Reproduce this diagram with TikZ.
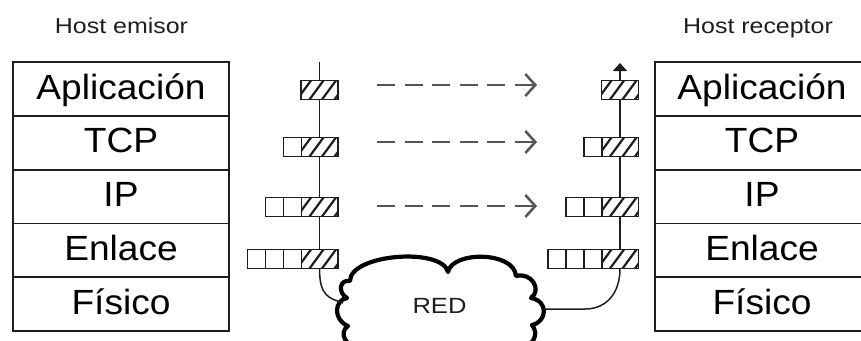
\documentclass[tikz,border=0pt]{standalone}
\usepackage{fontspec}
\setmainfont{Liberation Sans}
\newfontfamily\layerfont[FakeStretch=1.06]{Liberation Sans}
\newfontfamily\titlefont[FakeStretch=1.16]{Liberation Sans}
\usetikzlibrary{arrows.meta}
\definecolor{ink}{RGB}{30,30,30}
\definecolor{dgray}{RGB}{85,85,85}
\begin{document}
\begin{tikzpicture}[x=1pt,y=-1pt,
  layer/.style={draw=ink, line width=1.8pt, minimum width=216pt, inner sep=0pt, outer sep=0pt,
    text height=37pt, text depth=16.8pt, anchor=north, font=\layerfont\fontsize{35}{40}\selectfont},
  title/.style={anchor=base, inner sep=0pt, font=\titlefont\fontsize{21.5}{24}\selectfont, text=ink},
  cellw/.style={draw=ink, line width=1.8pt, fill=white, minimum width=18pt, minimum height=19pt, inner sep=0pt, outer sep=0pt},
  cellh/.style={cellw, minimum width=37pt,
    path picture={\foreach \k in {0,...,3}{\draw[ink,line width=2.2pt] ([xshift=\k*12.5pt-4pt]path picture bounding box.south west) -- ++(14pt,19pt);}}},
  conn/.style={draw=ink, line width=1.5pt},
  dasharrow/.style={dgray, line width=2.5pt, dash pattern=on 18pt off 9.5pt,
    -{Straight Barb[length=10pt,width=22pt,line width=2.5pt]}}
]
\useasboundingbox (0,0) rectangle (861,340);

% titles
\node[title] (temisor) at (121.5,33) {Host emisor};
\node[title] (treceptor) at (758,33) {Host receptor};

% left stack
\node[layer] (L1) at (121,62) {Aplicación};
\node[layer] (L2) at (121,115.8) {TCP};
\node[layer] (L3) at (121,169.6) {IP};
\node[layer] (L4) at (121,223.4) {Enlace};
\node[layer] (L5) at (121,277.2) {Físico};

% right stack
\node[layer, minimum width=214pt] (R1) at (762,62) {Aplicación};
\node[layer, minimum width=214pt] (R2) at (762,115.8) {TCP};
\node[layer, minimum width=214pt] (R3) at (762,169.6) {IP};
\node[layer, minimum width=214pt] (R4) at (762,223.4) {Enlace};
\node[layer, minimum width=214pt] (R5) at (762,277.2) {Físico};

% coordinates
\coordinate (ltop) at (319.5,62);
\coordinate (rtop) at (620,63);
\coordinate (cloudL) at (343,303);
\coordinate (cloudR) at (543,309);

% cloud
\draw[black, line width=4.2pt, line join=round, fill=white]
  (350,281)
  .. controls (350,254) and (442,247) .. (448,272)
  .. controls (452,251) and (514,251) .. (516,276)
  .. controls (532,272) and (542,290) .. (531,298)
  .. controls (549,301) and (547,322) .. (532,325)
  .. controls (540,335) and (532,346) .. (520,350)
  -- (360,350)
  .. controls (346,346) and (338,333) .. (348,326)
  .. controls (333,320) and (334,300) .. (347,298)
  .. controls (337,292) and (340,279) .. (350,281) -- cycle;
\node[title, font=\titlefont\fontsize{22}{24}\selectfont] (red) at (439.5,313) {RED};

% connectors (behind packets)
\draw[conn] (ltop) -- (319.5,90);
\draw[conn] (319.5,90) -- (319.5,259);
\draw[conn] (620,90) -- (620,259);

% left packets
\node[cellh] (la1) at (319.5,90) {};
\node[cellh] (la2) at (319.5,147) {};
\node[cellw] (la2a) at (292.5,147) {};
\node[cellh] (la3) at (319.5,207) {};
\node[cellw] (la3a) at (292.5,207) {};
\node[cellw] (la3b) at (274.5,207) {};
\node[cellh] (la4) at (319.5,259) {};
\node[cellw] (la4a) at (292.5,259) {};
\node[cellw] (la4b) at (274.5,259) {};
\node[cellw] (la4c) at (256.5,259) {};

% right packets
\node[cellh] (ra1) at (620,90) {};
\node[cellh] (ra2) at (620,147) {};
\node[cellw] (ra2a) at (593,147) {};
\node[cellh] (ra3) at (620,207) {};
\node[cellw] (ra3a) at (593,207) {};
\node[cellw] (ra3b) at (575,207) {};
\node[cellh] (ra4) at (620,259) {};
\node[cellw] (ra4a) at (593,259) {};
\node[cellw] (ra4b) at (575,259) {};
\node[cellw] (ra4c) at (557,259) {};

% curves to the cloud and top arrow
\draw[conn] (la4.south) .. controls +(0,28) and +(-14,-5) .. (cloudL);
\draw[conn] (cloudR) -- ++(42,0) .. controls +(22,0) and +(0,24) .. (ra4.south);
\draw[conn, -{Triangle[width=14pt,length=8pt]}] (ra1.north) -- (rtop);

% dashed arrows
\coordinate (d1s) at (377,85);  \coordinate (d1e) at (537,85);
\coordinate (d2s) at (377,142); \coordinate (d2e) at (537,142);
\coordinate (d3s) at (377,206); \coordinate (d3e) at (537,206);
\draw[dasharrow] (d1s) -- (d1e);
\draw[dasharrow] (d2s) -- (d2e);
\draw[dasharrow] (d3s) -- (d3e);
\end{tikzpicture}
\end{document}
